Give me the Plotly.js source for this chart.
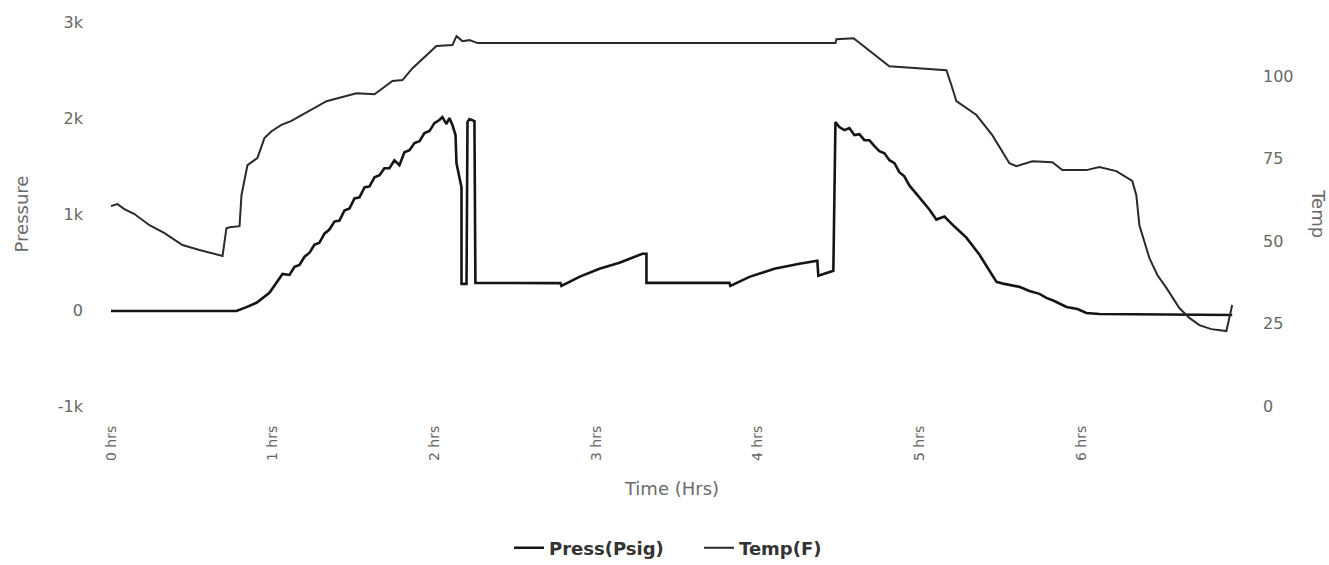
<!DOCTYPE html>
<html>
<head>
<meta charset="utf-8">
<script src="https://cdn.plot.ly/plotly-3.0.1.min.js"></script>
<style>
html,body{margin:0;padding:0;background:#fff;}
#chart{width:1329px;height:565px;}
</style>
</head>
<body>
<div id="chart"></div>
<script>
// ---- Data (hours, psig) ----
const pressTime = [0.000,0.776,0.838,0.900,0.980,1.061,1.104,1.135,1.166,1.197,1.228,1.258,1.289,1.320,1.351,1.382,1.413,1.444,1.475,1.506,1.537,1.568,1.599,1.630,1.661,1.691,1.722,1.753,1.784,1.815,1.846,1.877,1.908,1.939,1.970,2.000,2.031,2.050,2.075,2.093,2.112,2.131,2.137,2.168,2.168,2.199,2.205,2.217,2.248,2.254,2.780,2.786,2.897,3.021,3.145,3.287,3.312,3.312,3.825,3.831,3.949,4.103,4.258,4.369,4.375,4.468,4.481,4.505,4.536,4.567,4.598,4.629,4.660,4.691,4.722,4.753,4.784,4.815,4.846,4.876,4.907,4.938,5.000,5.062,5.105,5.155,5.217,5.291,5.372,5.477,5.526,5.576,5.619,5.681,5.743,5.786,5.835,5.910,5.978,6.033,6.114,6.935];
const pressValues = [-10,-10,30,75,180,375,365,450,470,555,597,680,700,795,838,921,932,1037,1057,1162,1173,1277,1288,1382,1403,1476,1476,1560,1508,1644,1665,1738,1759,1843,1864,1947,1979,2010,1937,2000,1927,1822,1529,1277,272,272,1958,1989,1968,283,280,250,345,430,492,586,586,283,283,250,345,430,482,513,356,408,1958,1906,1874,1895,1822,1832,1769,1769,1707,1654,1633,1560,1529,1435,1393,1298,1173,1047,942,974,869,754,576,293,272,251,241,199,168,126,94,31,10,-31,-42,-52];

// ---- Data (hours, deg F) ----
const tempTime = [0.000,0.040,0.083,0.145,0.238,0.331,0.442,0.547,0.690,0.714,0.733,0.795,0.807,0.844,0.906,0.949,0.993,1.054,1.116,1.333,1.518,1.630,1.741,1.803,1.865,2.013,2.112,2.137,2.174,2.217,2.267,4.481,4.487,4.593,4.814,5.167,5.198,5.229,5.353,5.451,5.557,5.600,5.699,5.823,5.884,6.033,6.113,6.218,6.317,6.342,6.361,6.392,6.423,6.472,6.528,6.608,6.670,6.732,6.806,6.899,6.935];
const tempValues = [60.6,61.2,59.7,58.2,54.8,52.4,48.8,47.3,45.5,53.9,54.2,54.5,63.9,73.0,75.2,81.2,83.3,85.2,86.4,92.4,94.8,94.5,98.5,98.8,102.4,109.1,109.4,112.1,110.6,110.9,110.0,110.0,111.2,111.5,103.0,101.8,97.3,92.4,88.2,82.1,73.6,72.7,74.2,73.9,71.5,71.5,72.4,71.2,68.2,63.9,54.8,49.4,44.8,39.7,35.8,29.7,26.7,24.5,23.3,22.7,30.6];

// ---- Ticks ----
const xTickVals = [0,1,2,3,4,5,6];
const xTickText = ["0 hrs","1 hrs","2 hrs","3 hrs","4 hrs","5 hrs","6 hrs"];
const pressTickVals = [-1000,0,1000,2000,3000];
const pressTickText = ["-1k","0","1k","2k","3k"];
const tempTickVals = [0,25,50,75,100];
const tempTickText = ["0","25","50","75","100"];

const seriesNames = ["Press(Psig)","Temp(F)"];

const FONT = "DejaVu Sans, Verdana, sans-serif";
const yTickFont = {family: FONT, size: 16, color: "#666"};
const xTickFont = {family: FONT, size: 14, color: "#666"};
const titleFont = {family: FONT, size: 18, color: "#6a6a6a"};

const traces = [
  {x: pressTime, y: pressValues, name: seriesNames[0], type: "scatter", mode: "lines",
   line: {color: "#151515", width: 2.6}, yaxis: "y"},
  {x: tempTime, y: tempValues, name: seriesNames[1], type: "scatter", mode: "lines",
   line: {color: "#2a2a2a", width: 2}, yaxis: "y2"}
];

const layout = {
  width: 1329, height: 565,
  paper_bgcolor: "#fff", plot_bgcolor: "#fff",
  margin: {l: 111, r: 96, t: 22, b: 159},
  showlegend: true,
  legend: {orientation: "h", xref: "container", x: 0.383, xanchor: "left", yref: "container", y: 0.03, yanchor: "middle",
           font: {family: FONT, size: 18, color: "#333", weight: 600}, traceorder: "normal",
           itemwidth: 30, entrywidth: 145, entrywidthmode: "pixels"},
  xaxis: {range: [0, 6.94], tickvals: xTickVals, ticktext: xTickText, tickangle: -90,
          showgrid: false, zeroline: false, showline: false, ticks: "",
          ticklabelstandoff: 16, tickfont: xTickFont,
          title: {text: "Time (Hrs)", font: titleFont, standoff: 22}},
  yaxis: {range: [-1000, 3000], tickvals: pressTickVals, ticktext: pressTickText,
          showgrid: false, zeroline: false, showline: false, ticks: "",
          ticklabelstandoff: 27, tickfont: yTickFont,
          title: {text: "Pressure", font: titleFont, standoff: 24}},
  yaxis2: {range: [0, 116.4], tickvals: tempTickVals, ticktext: tempTickText, overlaying: "y", side: "right",
           showgrid: false, zeroline: false, showline: false, ticks: "",
           ticklabelstandoff: 29, tickfont: yTickFont},
  annotations: [
    {text: "Temp", xref: "paper", yref: "paper", x: 1.0765, y: 0.5, textangle: 90,
     showarrow: false, xanchor: "center", yanchor: "middle", font: titleFont}
  ]
};

Plotly.newPlot("chart", traces, layout, {displayModeBar: false, staticPlot: true});
</script>
</body>
</html>
